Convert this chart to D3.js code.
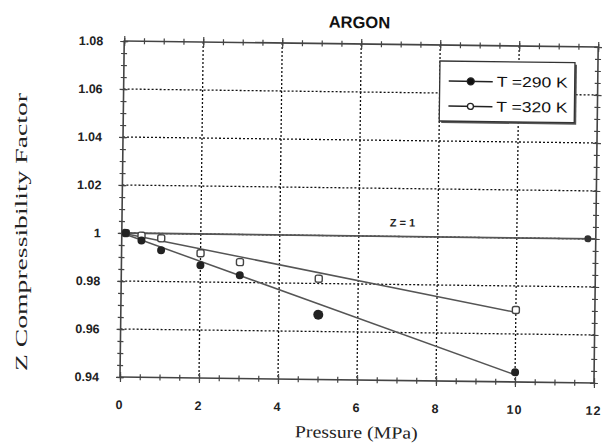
<!DOCTYPE html>
<html><head><meta charset="utf-8">
<script src="https://cdn.jsdelivr.net/npm/d3@7"></script>
<style>body{margin:0;background:#fff}svg{display:block}</style>
</head><body>
<svg id="c" width="602" height="448"></svg>
<script>
const pressure290 = [0.1, 0.5, 1, 2, 3, 5, 10];
const z290 = [1.000, 0.997, 0.993, 0.987, 0.983, 0.967, 0.944];
const pressure320 = [0.1, 0.5, 1, 2, 3, 5, 10];
const z320 = [1.000, 0.999, 0.998, 0.992, 0.9885, 0.982, 0.970];
const fit290 = [[0, 1.0], [10, 0.943]];
const fit320 = [[0, 1.0], [10, 0.969]];
const idealLine = [[0, 1.0], [12, 1.0]];
const idealMarkerX = [11.8];
const xTicks = [0, 2, 4, 6, 8, 10, 12];
const yTicks = [0.94, 0.96, 0.98, 1.00, 1.02, 1.04, 1.06, 1.08];
const yTickLabels = ["0.94", "0.96", "0.98", "1", "1.02", "1.04", "1.06", "1.08"];
const legendLabels = ["T =290 K", "T =320 K"];

const svg = d3.select("#c");
const L = 120, R = 594, T = 41, B = 377;
const x = d3.scaleLinear().domain([0, 12]).range([L, R]);
const y = d3.scaleLinear().domain([0.94, 1.08]).range([B, T]);

const g = svg.append("g").attr("transform", `rotate(0.72, ${L}, ${B})`);

// grid
g.append("g").selectAll("line").data(xTicks.filter(d => d > 0 && d < 12)).join("line")
  .attr("x1", d => x(d)).attr("x2", d => x(d)).attr("y1", T).attr("y2", B)
  .attr("stroke", "#111").attr("stroke-width", 1.3).attr("stroke-dasharray", "2,2");
g.append("g").selectAll("line").data(yTicks.filter(d => d > 0.941 && d < 1.079)).join("line")
  .attr("x1", L).attr("x2", R).attr("y1", d => y(d)).attr("y2", d => y(d))
  .attr("stroke", "#111").attr("stroke-width", 1.3).attr("stroke-dasharray", "2,2");

// frame
g.append("rect").attr("x", L).attr("y", T).attr("width", R - L).attr("height", B - T)
  .attr("fill", "none").attr("stroke", "#444").attr("stroke-width", 1.6);

// ticks (major and minor) on all four sides
const minorX = d3.range(0, 12.01, 0.5);
const minorY = d3.range(0.94, 1.0801, 0.005);
function tickSet(axisGen, tr, vals, size) {
  const a = g.append("g").attr("transform", tr)
    .call(axisGen.tickValues(vals).tickSize(size).tickFormat(""));
  a.select(".domain").remove();
  a.selectAll("line").attr("stroke", "#444").attr("stroke-width", 1.2);
  return a;
}
tickSet(d3.axisBottom(x), `translate(0,${B - 3})`, minorX, 6);
tickSet(d3.axisBottom(x), `translate(0,${B - 5})`, xTicks, 10);
tickSet(d3.axisTop(x), `translate(0,${T + 3})`, minorX, 6);
tickSet(d3.axisTop(x), `translate(0,${T + 5})`, xTicks, 10);
tickSet(d3.axisLeft(y), `translate(${L + 3},0)`, minorY, 6);
tickSet(d3.axisLeft(y), `translate(${L + 4},0)`, yTicks, 8);
tickSet(d3.axisRight(y), `translate(${R - 3},0)`, minorY, 6);
tickSet(d3.axisRight(y), `translate(${R - 4},0)`, yTicks, 8);

// tick labels
g.append("g").selectAll("text").data(xTicks).join("text")
  .attr("x", d => x(d)).attr("y", 409).attr("text-anchor", "middle")
  .attr("font-family", "Liberation Sans, Arial, sans-serif").attr("font-weight", "bold")
  .attr("font-size", 12.5).attr("letter-spacing", 1).attr("fill", "#222").text(d => d);
g.append("g").selectAll("text").data(yTicks).join("text")
  .attr("x", 99).attr("y", d => y(d) + 4.5).attr("text-anchor", "end")
  .attr("font-family", "Liberation Sans, Arial, sans-serif").attr("font-weight", "bold")
  .attr("font-size", 12.5).attr("fill", "#222").text((d, i) => yTickLabels[i]);

// title and axis titles
g.append("text").attr("x", 355).attr("y", 25).attr("text-anchor", "middle")
  .attr("font-family", "Liberation Sans, Arial, sans-serif").attr("font-weight", "bold")
  .attr("font-size", 16.5).attr("fill", "#111").text("ARGON");
g.append("text").attr("x", 357).attr("y", 435).attr("text-anchor", "middle")
  .attr("font-family", "Liberation Serif, Times New Roman, serif")
  .attr("font-size", 17).attr("fill", "#222")
  .attr("textLength", 123).attr("lengthAdjust", "spacingAndGlyphs").text("Pressure (MPa)");
svg.append("text").attr("transform", "translate(27,232) rotate(-90)").attr("text-anchor", "middle")
  .attr("font-family", "Liberation Serif, Times New Roman, serif")
  .attr("font-size", 17).attr("fill", "#222")
  .attr("textLength", 278).attr("lengthAdjust", "spacingAndGlyphs").text("Z Compressibility Factor");

// lines
const line = d3.line().x(d => x(d[0])).y(d => y(d[1]));
g.append("path").datum(idealLine).attr("d", line).attr("fill", "none")
  .attr("stroke", "#555").attr("stroke-width", 1.8);
g.append("path").datum(fit290).attr("d", line).attr("fill", "none")
  .attr("stroke", "#555").attr("stroke-width", 1.5);
g.append("path").datum(fit320).attr("d", line).attr("fill", "none")
  .attr("stroke", "#555").attr("stroke-width", 1.5);
g.append("g").selectAll("circle").data(idealMarkerX).join("circle")
  .attr("cx", d => x(d)).attr("cy", y(1.0)).attr("r", 3.5).attr("fill", "#333");
g.append("text").attr("x", x(7.1)).attr("y", y(1.0) - 10).attr("text-anchor", "middle")
  .attr("font-family", "Liberation Sans, Arial, sans-serif").attr("font-weight", "bold")
  .attr("font-size", 11).attr("fill", "#222").text("Z = 1");

// points
g.append("g").selectAll("rect").data(pressure320).join("rect")
  .attr("x", d => x(d) - 3.5).attr("y", (d, i) => y(z320[i]) - 3.5)
  .attr("width", 7).attr("height", 7).attr("rx", 2)
  .attr("fill", "#fff").attr("stroke", "#444").attr("stroke-width", 1.4);
g.append("g").selectAll("circle").data(pressure290).join("circle")
  .attr("cx", d => x(d)).attr("cy", (d, i) => y(z290[i]))
  .attr("r", (d, i) => i === 5 ? 5 : 4).attr("fill", "#222");

// legend
const lg = g.append("g").attr("transform", "translate(436,57)");
lg.append("rect").attr("x", 2).attr("y", 2).attr("width", 135).attr("height", 60).attr("fill", "#555");
lg.append("rect").attr("x", 0).attr("y", 0).attr("width", 135).attr("height", 60)
  .attr("fill", "#fff").attr("stroke", "#333").attr("stroke-width", 1.3);
legendLabels.forEach((lab, i) => {
  const cy = 20 + i * 25;
  lg.append("line").attr("x1", 9).attr("x2", 53).attr("y1", cy).attr("y2", cy)
    .attr("stroke", "#222").attr("stroke-width", 1.5);
  lg.append("circle").attr("cx", 31).attr("cy", cy).attr("r", i === 0 ? 3.5 : 3)
    .attr("fill", i === 0 ? "#111" : "#fff").attr("stroke", "#222").attr("stroke-width", 1.3);
  lg.append("text").attr("x", 57).attr("y", cy + 5)
    .attr("font-family", "Liberation Sans, Arial, sans-serif")
    .attr("font-size", 14.5).attr("fill", "#111")
    .attr("textLength", 71).attr("lengthAdjust", "spacingAndGlyphs").text(lab);
});
</script>
</body></html>
